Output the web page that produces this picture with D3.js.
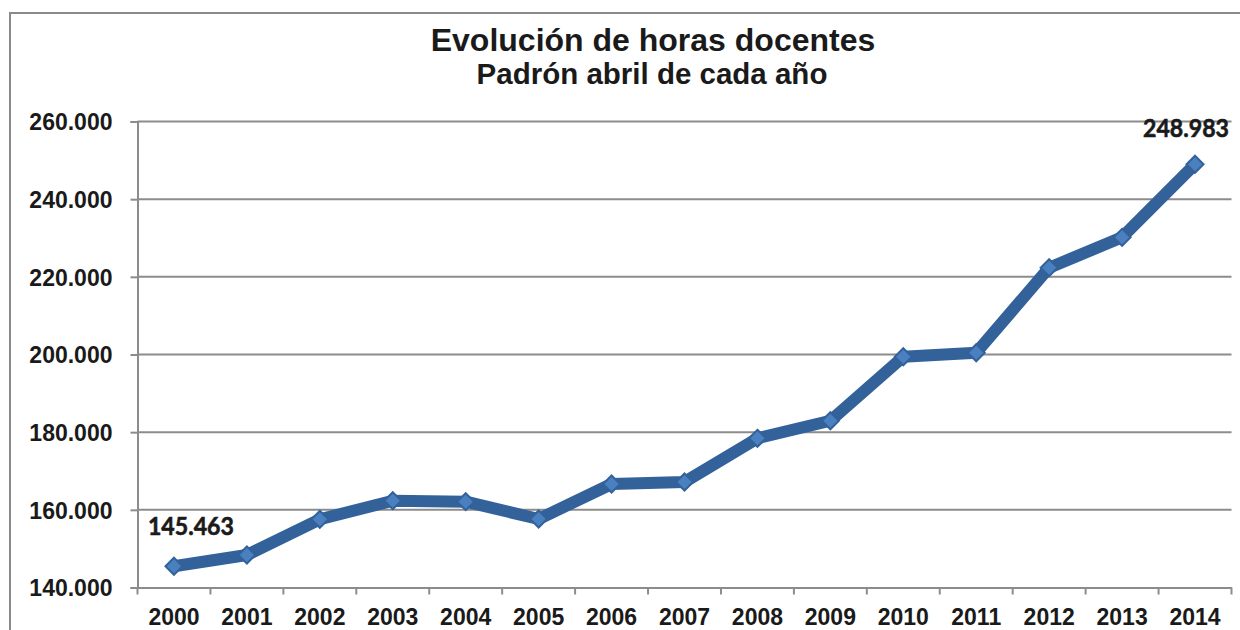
<!DOCTYPE html>
<html><head><meta charset="utf-8">
<script src="https://cdn.jsdelivr.net/npm/d3@7"></script>
<style>body{margin:0;background:#fff;overflow:hidden}svg{display:block}</style>
</head><body>
<svg id="c" width="1240" height="630"></svg>
<script>
const titleText = "Evolución de horas docentes";
const subtitleText = "Padrón abril de cada año";
const years = ["2000","2001","2002","2003","2004","2005","2006","2007","2008","2009","2010","2011","2012","2013","2014"];
const horas = [145463,148370,157560,162350,162100,157640,166650,167170,178420,182950,199430,200460,222350,230180,248983];
const yTicks = [140000,160000,180000,200000,220000,240000,260000];

const svg = d3.select("#c");
const m = {left:137.5, right:1231.5, top:121.5, bottom:587.5};
const fmt = v => d3.format(",")(v).replace(/,/g,".");

// outer border
svg.append("rect").attr("x",10).attr("y",13).attr("width",1250).attr("height",700)
  .attr("fill","none").attr("stroke","#8a8a8a").attr("stroke-width",2);

svg.append("text").attr("x",653).attr("y",51).attr("text-anchor","middle")
  .attr("font-family","Liberation Sans, Arial, sans-serif").attr("font-weight","bold")
  .attr("font-size",32).attr("fill","#1a1a1a").text(titleText);
svg.append("text").attr("x",652).attr("y",84).attr("text-anchor","middle")
  .attr("font-family","Liberation Sans, Arial, sans-serif").attr("font-weight","bold")
  .attr("font-size",29.5).attr("fill","#1a1a1a").text(subtitleText);

const x = d3.scaleBand().domain(years).range([m.left,m.right]).padding(0);
const y = d3.scaleLinear().domain([140000,260000]).range([m.bottom,m.top]);

// gridlines
svg.append("g").selectAll("line").data(yTicks.slice(1)).join("line")
  .attr("x1",m.left).attr("x2",m.right)
  .attr("y1",d=>y(d)).attr("y2",d=>y(d))
  .attr("stroke","#8c8c8c").attr("stroke-width",2);

// y axis
const yAxis = svg.append("g").attr("transform",`translate(${m.left},0)`)
  .call(d3.axisLeft(y).tickValues(yTicks).tickFormat(fmt).tickSize(7).tickPadding(18));
yAxis.select(".domain").attr("stroke","#8c8c8c").attr("stroke-width",2);
yAxis.selectAll(".tick line").attr("stroke","#8c8c8c").attr("stroke-width",2);
yAxis.selectAll("text").attr("font-family","Liberation Sans, Arial, sans-serif")
  .attr("font-weight","bold").attr("font-size",23).attr("fill","#1a1a1a").attr("dy","0.36em");

// x axis
const xAxis = svg.append("g").attr("transform",`translate(0,${m.bottom})`)
  .call(d3.axisBottom(x).tickSize(0).tickPadding(21));
xAxis.select(".domain").attr("stroke","#8c8c8c").attr("stroke-width",2);
xAxis.selectAll("text").attr("font-family","Liberation Sans, Arial, sans-serif")
  .attr("font-weight","bold").attr("font-size",23).attr("fill","#1a1a1a");
const bounds = years.map(d=>x(d)).concat([m.right]);
xAxis.append("g").selectAll("line").data(bounds).join("line")
  .attr("x1",d=>d).attr("x2",d=>d).attr("y1",0).attr("y2",7)
  .attr("stroke","#8c8c8c").attr("stroke-width",2);

const cx = d => x(d) + x.bandwidth()/2;
const pts = years.map((d,i)=>[cx(d), y(horas[i])]);

svg.append("path").attr("d", d3.line()(pts))
  .attr("fill","none").attr("stroke","#33629a").attr("stroke-width",12)
  .attr("stroke-linejoin","round");

svg.append("g").selectAll("path").data(pts).join("path")
  .attr("transform",d=>`translate(${d[0]},${d[1]})`)
  .attr("d","M0,-8.5L8.5,0L0,8.5L-8.5,0Z")
  .attr("fill","#4b80c0").attr("stroke","#33629a").attr("stroke-width",2);

// data labels
const lab = svg.append("g").attr("font-family","Lato, Open Sans, sans-serif")
  .attr("font-weight","bold").attr("font-size",25).attr("fill","#1a1a1a")
  .attr("stroke","#1a1a1a").attr("stroke-width",0.6);
lab.append("text").attr("x",pts[0][0]-26).attr("y",pts[0][1]-31)
  .attr("textLength",86).attr("lengthAdjust","spacingAndGlyphs").text(fmt(horas[0]));
lab.append("text").attr("x",pts[14][0]-52).attr("y",pts[14][1]-27)
  .attr("textLength",86).attr("lengthAdjust","spacingAndGlyphs").text(fmt(horas[14]));
</script>
</body></html>
